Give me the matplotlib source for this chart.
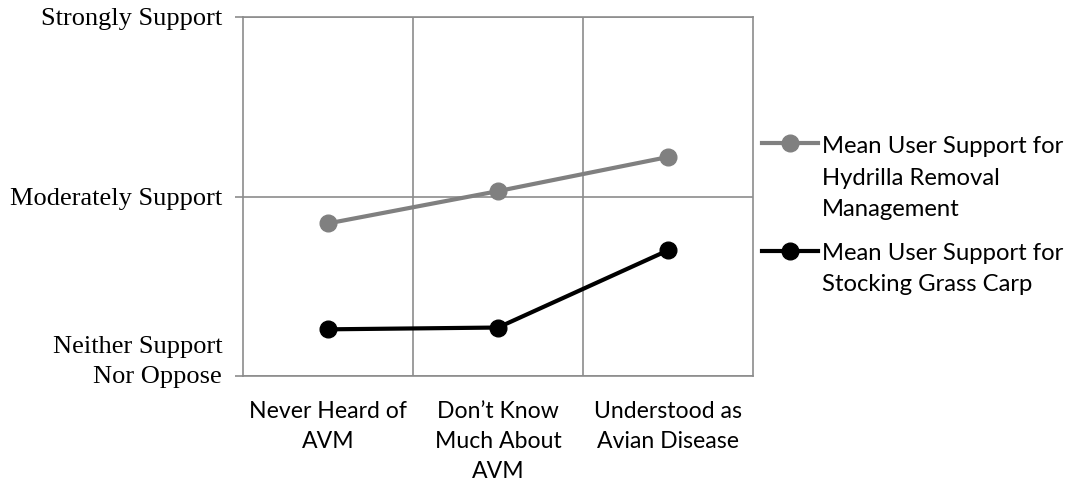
import matplotlib.pyplot as plt
import matplotlib.transforms as mtransforms
from matplotlib.legend_handler import HandlerLine2D

# awareness of AVM groups (x axis)
grupos = ['Never Heard of\nAVM', 'Don\u2019t Know\nMuch About\nAVM', 'Understood as\nAvian Disease']

# mean support on a 3..5 scale (3 = neither, 4 = moderately, 5 = strongly)
apoyo_hydrilla = [3.85, 4.03, 4.22]
apoyo_carpa = [3.26, 3.27, 3.70]

niveles = [3, 4, 5]
niveles_txt = ['Neither Support\nNor Oppose', 'Moderately Support', 'Strongly Support']

serie_labels = ['Mean User Support for\nHydrilla Removal\nManagement',
                'Mean User Support for\nStocking Grass Carp']

gris_grid = '#8c8c8c'
fs_leyenda = 17.2
interlinea = 1.62


class HandlerPrimeraLinea(HandlerLine2D):
    """Puts the legend marker next to the first line of a multi-line label."""

    def __init__(self, n_lineas, **kw):
        super().__init__(**kw)
        self.n_lineas = n_lineas

    def create_artists(self, legend, orig_handle, xdescent, ydescent,
                       width, height, fontsize, trans):
        # one text line is about 0.92 * fontsize * linespacing tall
        subida = (self.n_lineas - 1) / 2 * 0.92 * fontsize * interlinea
        return super().create_artists(legend, orig_handle, xdescent,
                                      ydescent - 2 * subida, width, height,
                                      fontsize, trans)


fig = plt.figure(figsize=(10.78, 4.87), dpi=100)
ax = fig.add_axes([243 / 1078, 1 - 376 / 487, 510 / 1078, 359 / 487])

x = range(len(grupos))
l1, = ax.plot(x, apoyo_hydrilla, color='#808080', lw=3, marker='o', ms=12,
              label=serie_labels[0], zorder=3)
l2, = ax.plot(x, apoyo_carpa, color='black', lw=3, marker='o', ms=12,
              label=serie_labels[1], zorder=3)

ax.set_xlim(-0.5, 2.5)
ax.set_ylim(3, 5)

# grid lines sit between the categories
ax.set_xticks([0.5, 1.5], minor=True)
ax.grid(True, which='minor', axis='x', color=gris_grid, lw=1.2)
ax.set_yticks(niveles)
ax.grid(True, which='major', axis='y', color=gris_grid, lw=1.2)
ax.set_axisbelow(True)

for s in ax.spines.values():
    s.set_color(gris_grid)
    s.set_linewidth(1.2)

ax.set_xticks(list(x))
ax.set_xticklabels(grupos, fontsize=16.6, family='Lato', linespacing=1.54)
ax.tick_params(axis='x', which='both', length=0, pad=18)

ax.set_yticklabels(niveles_txt, fontsize=19, family='Liberation Serif', linespacing=1.46)
ax.tick_params(axis='y', length=6, color=gris_grid, width=1.2, pad=9)

# lift the two-line bottom label a bit
lab = ax.get_yticklabels()[0]
lab.set_transform(lab.get_transform() +
                  mtransforms.ScaledTranslation(0, 14.5 / 72, fig.dpi_scale_trans))

leg = fig.legend(loc='upper left', bbox_to_anchor=(762 / 1078, 1 - 136 / 487),
                 frameon=False, prop={'family': 'Lato', 'size': fs_leyenda},
                 handlelength=2.35, handletextpad=0.17, labelspacing=0.95,
                 borderpad=0, borderaxespad=0,
                 handler_map={l1: HandlerPrimeraLinea(3), l2: HandlerPrimeraLinea(2)})
for t in leg.get_texts():
    t.set_linespacing(interlinea)

plt.savefig('out.png', dpi=100)
